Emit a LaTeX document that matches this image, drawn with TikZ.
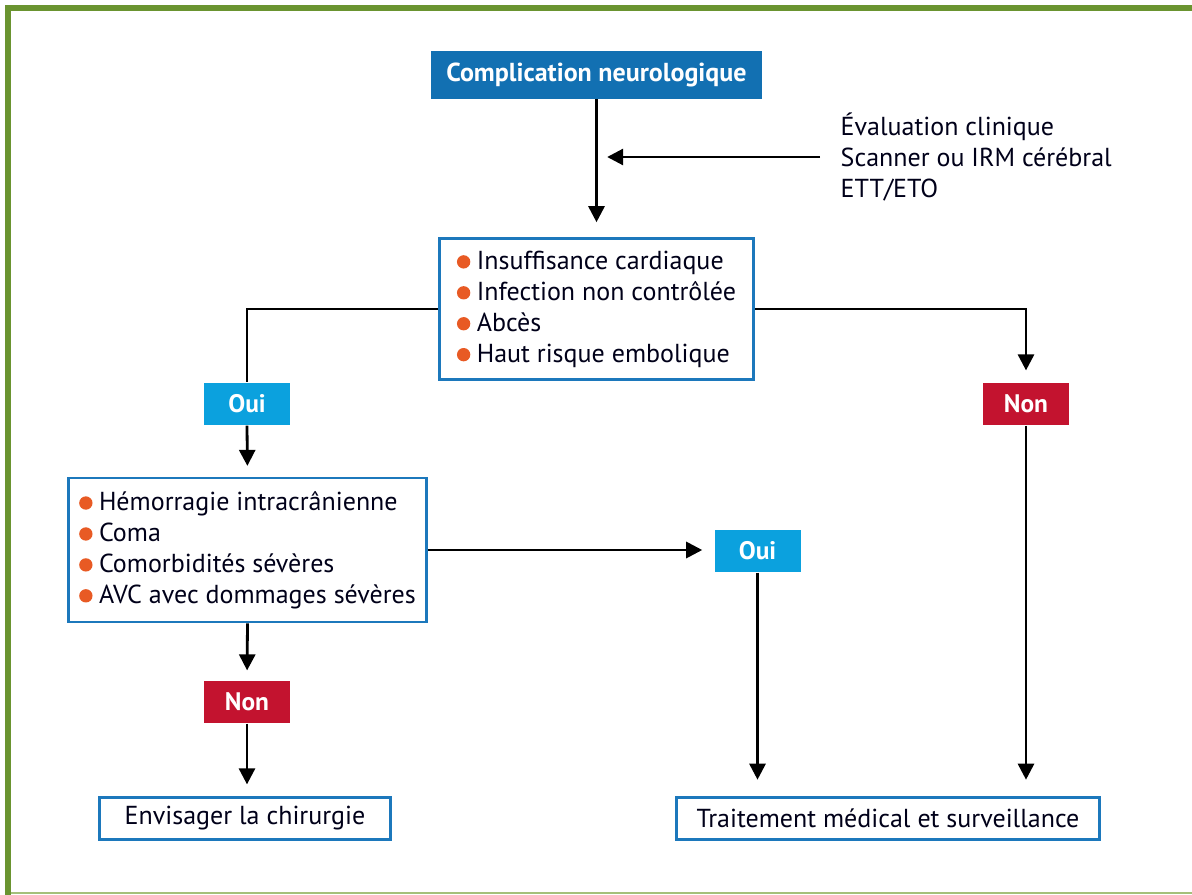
\documentclass[tikz,border=0pt]{standalone}
\usepackage{fontspec}
\setmainfont{PT Sans}
\usetikzlibrary{arrows.meta}
\definecolor{framegreen}{HTML}{6A9430}
\definecolor{framelight}{HTML}{A4C07A}
\definecolor{titleblue}{HTML}{1270B2}
\definecolor{boxblue}{HTML}{1C78BC}
\definecolor{ouiblue}{HTML}{0BA1DE}
\definecolor{nonred}{HTML}{C3132F}
\definecolor{bulorange}{HTML}{E85A24}
\newcommand\bulitem{\tikz[baseline={(0pt,-5.5pt)}]\fill[bulorange] (0pt,0pt) circle[radius=5pt];\hspace{0.25em}}
\tikzset{
  x=0.75pt, y=-0.75pt,
  txt/.style={font=\fontsize{19.5}{23.2}\selectfont, text=black!90!blue},
  whitebox/.style={draw=boxblue, line width=2.2pt, fill=white, inner sep=0pt, txt, align=left},
  titlebox/.style={fill=titleblue, inner sep=0pt, text=white, font=\fontsize{19.5}{22}\selectfont\bfseries},
  ouibox/.style={fill=ouiblue, inner sep=0pt, minimum width=64.5pt, minimum height=32pt, text=white, font=\fontsize{19}{22}\selectfont\bfseries},
  nonbox/.style={fill=nonred, inner sep=0pt, minimum width=64.5pt, minimum height=32pt, text=white, font=\fontsize{19}{22}\selectfont\bfseries},
  conn/.style={line width=2.1pt, black},
  arr/.style={conn, -{Triangle[length=12pt, width=12pt]}, shorten >=9pt},
}
\begin{document}
\begin{tikzpicture}
\useasboundingbox (0,0) rectangle (1192,895);
% frame
\draw[framelight, line width=1.5pt] (8,893) -- (1192,893);
\draw[framegreen, line width=4.8pt] (8,895) -- (8,8) -- (1192,8);

% nodes
\node[titlebox, minimum width=248pt, minimum height=36pt] (title) at (596.5,75) {Complication neurologique};
\node[txt, anchor=west, align=left] (eval) at (836,157) {Évaluation clinique\\Scanner ou IRM cérébral\\ETT/ETO};
\coordinate (evs) at (820,157);
\coordinate (evt) at (596.5,157);

\node[whitebox, minimum width=236pt, minimum height=106pt] (crit1) at (596.5,309)
  {\bulitem Insuffisance cardiaque\\\bulitem Infection non contrôlée\\\bulitem Abcès\\\bulitem Haut risque embolique};

\node[ouibox] (oui1) at (247,404) {Oui};
\node[nonbox] (non1) at (1026,404) {Non};

\node[whitebox, minimum width=268pt, minimum height=108pt] (crit2) at (247.5,550)
  {\bulitem Hémorragie intracrânienne\\\bulitem Coma\\\bulitem Comorbidités sévères\\\bulitem AVC avec dommages sévères};

\node[ouibox] (oui2) at (757.5,551) {Oui};
\node[nonbox] (non2) at (247,702) {Non};

\node[whitebox, minimum width=218pt, minimum height=31pt, align=center] (surg) at (245,818.5) {Envisager la chirurgie};
\node[whitebox, minimum width=317pt, minimum height=31pt, align=center] (med) at (888,818.5) {Traitement médical et surveillance};

% connectors
\draw[arr, shorten >=11pt] (title.south) -- (crit1.north);
\draw[arr, shorten >=0pt, shorten <=0pt] (evs) -- ([xshift=8pt]evt);
\draw[conn] (crit1.west) -| (oui1.north);
\draw[arr] (crit1.east) -| (non1.north);
\draw[arr, shorten >=8pt] (oui1.south) -- (crit2.north);
\draw[arr] (crit2.east) -- (crit2.east -| oui2.west);
\draw[arr, shorten >=7.5pt] (crit2.south) -- (non2.north);
\draw[arr] (non2.south) -- (non2.south |- surg.north);
\draw[arr, shorten >=12.5pt] (oui2.south) -- (oui2.south |- med.north);
\draw[arr, shorten >=12.5pt] (non1.south) -- (non1.south |- med.north);
\end{tikzpicture}
\end{document}
